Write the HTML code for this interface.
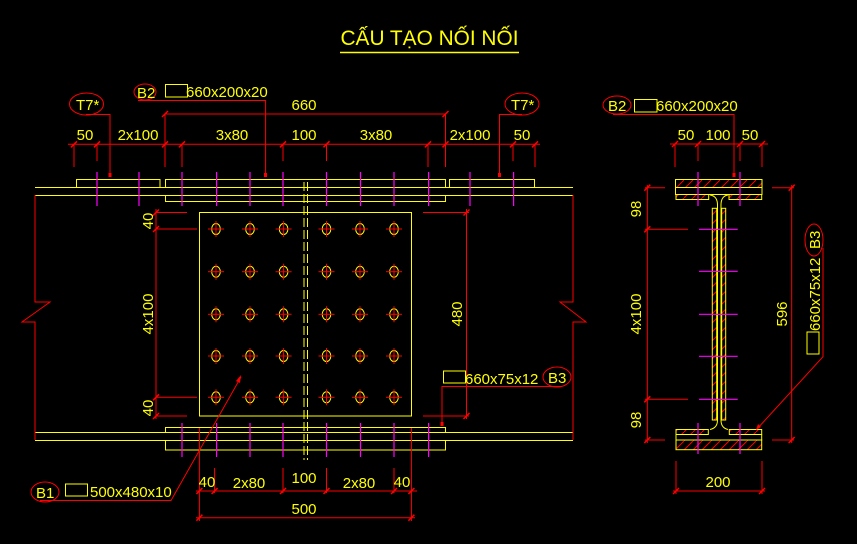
<!DOCTYPE html>
<html><head><meta charset="utf-8"><style>
html,body{margin:0;padding:0;background:#000;}
svg{display:block;}
text{font-family:"Liberation Sans Narrow","Liberation Sans",sans-serif;fill:#ffff00;}
</style></head><body>
<svg width="857" height="544" viewBox="0 0 857 544" xmlns="http://www.w3.org/2000/svg">
<defs>
<g id="bolt"><ellipse cx="0" cy="0" rx="4.3" ry="5.5" fill="none" stroke="#ff0" stroke-width="1"/><line x1="-8" y1="0" x2="8" y2="0" stroke="#f00"/><line x1="0" y1="-8" x2="0" y2="8" stroke="#f00"/></g>
<g id="tk"><line x1="-3" y1="3" x2="3" y2="-3" stroke="#f00" stroke-width="1.5"/></g>
<pattern id="hat" width="9" height="9" patternUnits="userSpaceOnUse"><line x1="0" y1="9" x2="9" y2="0" stroke="#f00" stroke-width="1"/></pattern>
</defs>

<!-- Title -->
<text x="340.5" y="45" font-size="21" textLength="178" lengthAdjust="spacingAndGlyphs" style="font-family:'Liberation Sans',sans-serif">CẤU TẠO NỐI NỐI</text>
<line x1="340" y1="52.5" x2="519" y2="52.5" stroke="#ff0" stroke-width="1.5"/>

<!-- ===== LEFT ELEVATION ===== -->
<g fill="none" stroke="#ff0" stroke-width="1">
<!-- flanges -->
<line x1="35" y1="187.5" x2="573" y2="187.5"/><line x1="35" y1="195.5" x2="573" y2="195.5"/>
<line x1="35" y1="432.5" x2="573" y2="432.5"/><line x1="35" y1="440.5" x2="573" y2="440.5"/>
<!-- top plates -->
<rect x="76.5" y="179.5" width="83.5" height="8"/>
<rect x="165.5" y="179.5" width="280" height="8"/>
<rect x="449.5" y="179.5" width="85" height="8"/>
<rect x="165.5" y="195.5" width="280" height="6"/>
<!-- bottom plates -->
<rect x="165.5" y="427.5" width="280" height="5"/>
<rect x="165.5" y="440.5" width="280" height="9.5"/>
<!-- web plate -->
<rect x="199.5" y="212.5" width="212" height="203.5"/>
</g>
<!-- center dashed joint -->
<g stroke="#ff0" stroke-width="1" stroke-dasharray="9,3">
<line x1="304" y1="182" x2="304" y2="460"/><line x1="307.5" y1="182" x2="307.5" y2="460"/>
</g>
<!-- red outline and breaks -->
<g fill="none" stroke="#f00" stroke-width="1">
<polyline points="35,195 35,302 50,302 22,322 35,322 35,440"/>
<polyline points="573,195 573,302 560,302 586,322 573,322 573,440"/>
</g>
<!-- magenta bolts top/bottom -->
<g stroke="#f0f" stroke-width="1.2">
<line x1="97" y1="172" x2="97" y2="206"/><line x1="139" y1="172" x2="139" y2="206"/>
<line x1="182" y1="172" x2="182" y2="206"/><line x1="216.6" y1="172" x2="216.6" y2="206"/>
<line x1="250" y1="172" x2="250" y2="206"/><line x1="283" y1="172" x2="283" y2="206"/>
<line x1="326.5" y1="172" x2="326.5" y2="206"/><line x1="360.5" y1="172" x2="360.5" y2="206"/>
<line x1="394" y1="172" x2="394" y2="206"/><line x1="428.6" y1="172" x2="428.6" y2="206"/>
<line x1="470" y1="172" x2="470" y2="206"/><line x1="513.6" y1="172" x2="513.6" y2="206"/>
<line x1="182" y1="423" x2="182" y2="457"/><line x1="216.6" y1="423" x2="216.6" y2="457"/>
<line x1="250" y1="423" x2="250" y2="457"/><line x1="283" y1="423" x2="283" y2="457"/>
<line x1="326.5" y1="423" x2="326.5" y2="457"/><line x1="360.5" y1="423" x2="360.5" y2="457"/>
<line x1="394" y1="423" x2="394" y2="457"/><line x1="428.6" y1="423" x2="428.6" y2="457"/>
</g>
<!-- bolts grid -->
<g>
<use href="#bolt" x="216" y="229"/><use href="#bolt" x="250" y="229"/><use href="#bolt" x="283.6" y="229"/><use href="#bolt" x="326.5" y="229"/><use href="#bolt" x="360" y="229"/><use href="#bolt" x="394" y="229"/>
<use href="#bolt" x="216" y="271.7"/><use href="#bolt" x="250" y="271.7"/><use href="#bolt" x="283.6" y="271.7"/><use href="#bolt" x="326.5" y="271.7"/><use href="#bolt" x="360" y="271.7"/><use href="#bolt" x="394" y="271.7"/>
<use href="#bolt" x="216" y="314.3"/><use href="#bolt" x="250" y="314.3"/><use href="#bolt" x="283.6" y="314.3"/><use href="#bolt" x="326.5" y="314.3"/><use href="#bolt" x="360" y="314.3"/><use href="#bolt" x="394" y="314.3"/>
<use href="#bolt" x="216" y="356"/><use href="#bolt" x="250" y="356"/><use href="#bolt" x="283.6" y="356"/><use href="#bolt" x="326.5" y="356"/><use href="#bolt" x="360" y="356"/><use href="#bolt" x="394" y="356"/>
<use href="#bolt" x="216" y="397.3"/><use href="#bolt" x="250" y="397.3"/><use href="#bolt" x="283.6" y="397.3"/><use href="#bolt" x="326.5" y="397.3"/><use href="#bolt" x="360" y="397.3"/><use href="#bolt" x="394" y="397.3"/>
</g>

<!-- top dimensions -->
<g stroke="#f00" stroke-width="1" fill="none">
<line x1="68" y1="144.3" x2="540" y2="144.3"/>
<line x1="74" y1="144" x2="74" y2="167"/><line x1="97" y1="144" x2="97" y2="161"/>
<line x1="165" y1="114" x2="165" y2="167"/><line x1="182" y1="144" x2="182" y2="167"/>
<line x1="283" y1="144" x2="283" y2="161"/><line x1="326.5" y1="144" x2="326.5" y2="161"/>
<line x1="428" y1="144" x2="428" y2="167"/><line x1="445.5" y1="114" x2="445.5" y2="167"/>
<line x1="513" y1="144" x2="513" y2="161"/><line x1="535" y1="144" x2="535" y2="167"/>
<line x1="165" y1="114" x2="445.5" y2="114"/>
</g>
<g>
<use href="#tk" x="74" y="144.3"/><use href="#tk" x="97" y="144.3"/><use href="#tk" x="165" y="144.3"/><use href="#tk" x="182" y="144.3"/><use href="#tk" x="283" y="144.3"/><use href="#tk" x="326.5" y="144.3"/><use href="#tk" x="428" y="144.3"/><use href="#tk" x="445.5" y="144.3"/><use href="#tk" x="513" y="144.3"/><use href="#tk" x="535" y="144.3"/>
<use href="#tk" x="165" y="114"/><use href="#tk" x="445.5" y="114"/>
</g>
<g font-size="15" text-anchor="middle">
<text x="85" y="140">50</text><text x="138" y="140">2x100</text><text x="232" y="140">3x80</text><text x="304" y="140">100</text><text x="376" y="140">3x80</text><text x="470" y="140">2x100</text><text x="522" y="140">50</text>
<text x="304" y="110">660</text>
</g>

<!-- B2 callout -->
<ellipse cx="145" cy="92" rx="11" ry="8" fill="none" stroke="#f00"/>
<text x="137" y="98" font-size="15">B2</text>
<rect x="165.5" y="84.5" width="22" height="12.5" fill="none" stroke="#ff0"/>
<text x="186" y="97" font-size="15">660x200x20</text>
<polyline points="138,100.5 265.6,100.5 265.6,176" fill="none" stroke="#f00"/>
<rect x="264" y="173" width="3" height="4" fill="#f00"/>

<!-- T7* callouts -->
<ellipse cx="86.5" cy="104" rx="17" ry="11" fill="none" stroke="#f00"/>
<text x="76" y="110" font-size="15">T7*</text>
<polyline points="86,114.5 110,114.5 110,177" fill="none" stroke="#f00"/>
<rect x="108.5" y="173" width="3" height="4" fill="#f00"/>
<ellipse cx="522" cy="104" rx="17" ry="11" fill="none" stroke="#f00"/>
<text x="511" y="110" font-size="15">T7*</text>
<polyline points="522,114.5 499.5,114.5 499.5,177" fill="none" stroke="#f00"/>
<rect x="498" y="173" width="3" height="4" fill="#f00"/>

<!-- left vertical dims -->
<g stroke="#f00" stroke-width="1" fill="none">
<line x1="156" y1="209" x2="156" y2="419"/>
<line x1="156" y1="212.5" x2="187" y2="212.5"/><line x1="156" y1="229" x2="197" y2="229"/>
<line x1="156" y1="397.3" x2="197" y2="397.3"/><line x1="156" y1="416" x2="187" y2="416"/>
<line x1="466.5" y1="209" x2="466.5" y2="419"/>
<line x1="423" y1="212.5" x2="469" y2="212.5"/><line x1="423" y1="416" x2="469" y2="416"/>
</g>
<use href="#tk" x="156" y="212.5"/><use href="#tk" x="156" y="229"/><use href="#tk" x="156" y="397.3"/><use href="#tk" x="156" y="416"/>
<use href="#tk" x="466.5" y="212.5"/><use href="#tk" x="466.5" y="416"/>
<g font-size="15" text-anchor="middle">
<text transform="translate(153,221) rotate(-90)">40</text>
<text transform="translate(153,314) rotate(-90)">4x100</text>
<text transform="translate(153,408) rotate(-90)">40</text>
<text transform="translate(462,314) rotate(-90)">480</text>
</g>

<!-- bottom dims -->
<g stroke="#f00" stroke-width="1" fill="none">
<line x1="199.4" y1="428" x2="199.4" y2="521"/><line x1="411.4" y1="428" x2="411.4" y2="521"/>
<line x1="214.6" y1="468" x2="214.6" y2="493"/><line x1="283" y1="468" x2="283" y2="493"/>
<line x1="326.5" y1="468" x2="326.5" y2="493"/><line x1="394" y1="468" x2="394" y2="493"/>
<line x1="196" y1="491" x2="417" y2="491"/><line x1="196" y1="517.7" x2="415" y2="517.7"/>
</g>
<use href="#tk" x="199.4" y="491"/><use href="#tk" x="214.6" y="491"/><use href="#tk" x="283" y="491"/><use href="#tk" x="326.5" y="491"/><use href="#tk" x="394" y="491"/><use href="#tk" x="411.4" y="491"/>
<use href="#tk" x="199.4" y="517.7"/><use href="#tk" x="411.4" y="517.7"/>
<g font-size="15" text-anchor="middle">
<text x="207" y="487">40</text><text x="249" y="488">2x80</text><text x="304" y="483">100</text><text x="359" y="488">2x80</text><text x="402" y="487">40</text>
<text x="304" y="514">500</text>
</g>

<!-- B1 callout -->
<ellipse cx="45" cy="492" rx="14" ry="10" fill="none" stroke="#f00"/>
<text x="36" y="498" font-size="15">B1</text>
<rect x="65.5" y="484" width="22" height="12" fill="none" stroke="#ff0"/>
<text x="90" y="497" font-size="15">500x480x10</text>
<polyline points="40,500.5 171,500.5 241,377" fill="none" stroke="#f00"/>
<polygon points="241,375 236,381 240,383" fill="#f00"/>

<!-- B3 callout left -->
<rect x="443.5" y="371" width="22" height="12" fill="none" stroke="#ff0"/>
<text x="465" y="384" font-size="15">660x75x12</text>
<ellipse cx="557" cy="377" rx="14" ry="10" fill="none" stroke="#f00"/>
<text x="548" y="383" font-size="15">B3</text>
<polyline points="562,386.5 442,386.5 442,426" fill="none" stroke="#f00"/>
<rect x="440.5" y="422" width="3" height="4" fill="#f00"/>

<!-- ===== RIGHT SECTION ===== -->
<!-- top -->
<rect x="675.5" y="179.5" width="86.5" height="8" fill="url(#hat)" stroke="#ff0"/>
<polyline points="675.5,187.5 675.5,194.5 762,194.5 762,187.5" fill="none" stroke="#ff0"/>
<rect x="676" y="194.5" width="32.7" height="5" fill="url(#hat)" stroke="#ff0"/>
<rect x="729" y="194.5" width="32.7" height="5" fill="url(#hat)" stroke="#ff0"/>
<!-- bottom -->
<rect x="676" y="429.5" width="32.3" height="5" fill="url(#hat)" stroke="#ff0"/>
<rect x="729.3" y="429.5" width="32.4" height="5" fill="url(#hat)" stroke="#ff0"/>
<polyline points="676,434.5 676,440 761.7,440 761.7,434.5" fill="none" stroke="#ff0"/>
<rect x="676" y="440" width="85.7" height="9.7" fill="url(#hat)" stroke="#ff0"/>
<!-- web -->
<path d="M710,195 Q717.5,196 717.5,205 L717.5,420 Q717.5,428 710,429.5" fill="none" stroke="#ff0"/>
<path d="M728,195 Q721,196 721,205 L721,420 Q721,428 728,429.5" fill="none" stroke="#ff0"/>
<rect x="712.3" y="208.3" width="4.4" height="211.7" fill="url(#hat)" stroke="#ff0"/>
<rect x="721.7" y="208.3" width="4" height="211.7" fill="url(#hat)" stroke="#ff0"/>
<!-- magenta -->
<g stroke="#f0f" stroke-width="1.2">
<line x1="698" y1="172" x2="698" y2="206"/><line x1="740" y1="172" x2="740" y2="206"/>
<line x1="698" y1="423" x2="698" y2="454"/><line x1="740" y1="423" x2="740" y2="454"/>
<line x1="699" y1="229.3" x2="737.7" y2="229.3"/><line x1="699" y1="271.3" x2="737.7" y2="271.3"/>
<line x1="699" y1="314.3" x2="737.7" y2="314.3"/><line x1="699" y1="356.3" x2="737.7" y2="356.3"/>
<line x1="699" y1="399.3" x2="737.7" y2="399.3"/>
</g>
<!-- dims -->
<g stroke="#f00" stroke-width="1" fill="none">
<line x1="670" y1="144" x2="768" y2="144"/>
<line x1="675" y1="144" x2="675" y2="167"/><line x1="698" y1="144" x2="698" y2="161"/>
<line x1="740" y1="144" x2="740" y2="161"/><line x1="762" y1="144" x2="762" y2="167"/>
<line x1="647.3" y1="185" x2="647.3" y2="443"/>
<line x1="645" y1="187.7" x2="665" y2="187.7"/><line x1="645" y1="229.3" x2="688" y2="229.3"/>
<line x1="645" y1="399.3" x2="688" y2="399.3"/><line x1="645" y1="440" x2="665" y2="440"/>
<line x1="791.7" y1="185" x2="791.7" y2="443"/>
<line x1="772" y1="187.7" x2="794" y2="187.7"/><line x1="772" y1="440" x2="794" y2="440"/>
<line x1="676" y1="461" x2="676" y2="494"/><line x1="762" y1="461" x2="762" y2="494"/>
<line x1="673" y1="491" x2="765" y2="491"/>
</g>
<use href="#tk" x="675" y="144"/><use href="#tk" x="698" y="144"/><use href="#tk" x="740" y="144"/><use href="#tk" x="762" y="144"/>
<use href="#tk" x="647.3" y="187.7"/><use href="#tk" x="647.3" y="229.3"/><use href="#tk" x="647.3" y="399.3"/><use href="#tk" x="647.3" y="440"/>
<use href="#tk" x="791.7" y="187.7"/><use href="#tk" x="791.7" y="440"/>
<use href="#tk" x="676" y="491"/><use href="#tk" x="762" y="491"/>
<g font-size="15" text-anchor="middle">
<text x="686" y="140">50</text><text x="718" y="140">100</text><text x="750" y="140">50</text>
<text transform="translate(641,209) rotate(-90)">98</text>
<text transform="translate(641,314) rotate(-90)">4x100</text>
<text transform="translate(641,420) rotate(-90)">98</text>
<text transform="translate(787,314) rotate(-90)">596</text>
<text x="718" y="487">200</text>
</g>
<!-- B2 right -->
<ellipse cx="617" cy="105" rx="14" ry="9" fill="none" stroke="#f00"/>
<text x="608" y="111" font-size="15">B2</text>
<rect x="634.5" y="99.5" width="22.5" height="12.5" fill="none" stroke="#ff0"/>
<text x="656" y="111" font-size="15">660x200x20</text>
<polyline points="613,114.5 734,114.5 734,176" fill="none" stroke="#f00"/>
<rect x="732.5" y="173" width="3" height="4" fill="#f00"/>
<!-- B3 right -->
<ellipse cx="814" cy="240" rx="9" ry="16" fill="none" stroke="#f00"/>
<text transform="translate(820,249) rotate(-90)" font-size="15">B3</text>
<text transform="translate(820,331) rotate(-90)" font-size="15">660x75x12</text>
<rect x="807" y="332" width="12" height="22" fill="none" stroke="#ff0"/>
<polyline points="823,248 823,356.7 757,429" fill="none" stroke="#f00"/>
<polygon points="756,430 758,424 761,427" fill="#f00"/>
</svg>
</body></html>
